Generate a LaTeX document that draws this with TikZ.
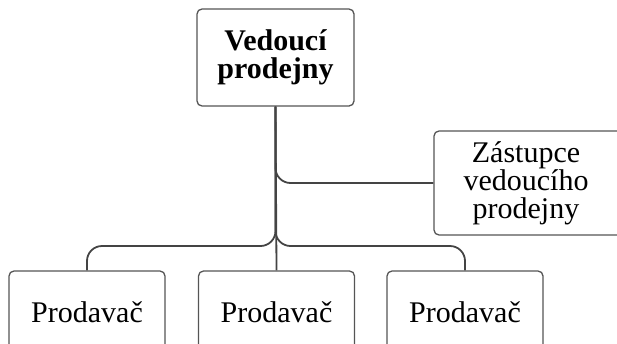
\documentclass[tikz,border=0pt]{standalone}
\usepackage{fontspec}
\setmainfont{Liberation Serif}
\definecolor{boxline}{HTML}{555555}
\definecolor{conline}{HTML}{444444}
\tikzset{
  orgbox/.style={draw=boxline, line width=1.3pt, rounded corners=5pt, fill=white,
    align=center, inner sep=0pt, font=\fontsize{30}{28}\selectfont},
  conn/.style={draw=conline, line width=1.8pt, rounded corners=15pt},
}
\begin{document}
\begin{tikzpicture}[x=1pt,y=1pt]
\useasboundingbox (0,0) rectangle (617,-343);
\clip (0,0) rectangle (617,-343);
\node[orgbox, minimum width=157pt, minimum height=97pt, font=\fontsize{30}{28}\selectfont\bfseries] (top) at (275.5,-57.5) {Vedoucí\\prodejny};
\node[orgbox, minimum width=194pt, minimum height=104pt] (zast) at (531,-183) {};
\node[align=center, inner sep=0pt, font=\fontsize{30}{28}\selectfont] (zasttext) at (526,-183) {Zástupce\\vedoucího\\prodejny};
\node[orgbox, minimum width=156pt, minimum height=82pt] (p1) at (87,-312) {Prodavač};
\node[orgbox, minimum width=156pt, minimum height=82pt] (p2) at (276.5,-312) {Prodavač};
\node[orgbox, minimum width=156pt, minimum height=82pt] (p3) at (465,-312) {Prodavač};
\coordinate (bus) at (0,-246);
\draw[conn] (top.south) |- (zast.west);
\draw[conn] (top.south) |- (bus -| p1.north) -- (p1.north);
\draw[conn] (top.south) |- (bus -| p3.north) -- (p3.north);
\draw[conn, rounded corners=0pt] (top.south) -- (p2.north);
\end{tikzpicture}
\end{document}
